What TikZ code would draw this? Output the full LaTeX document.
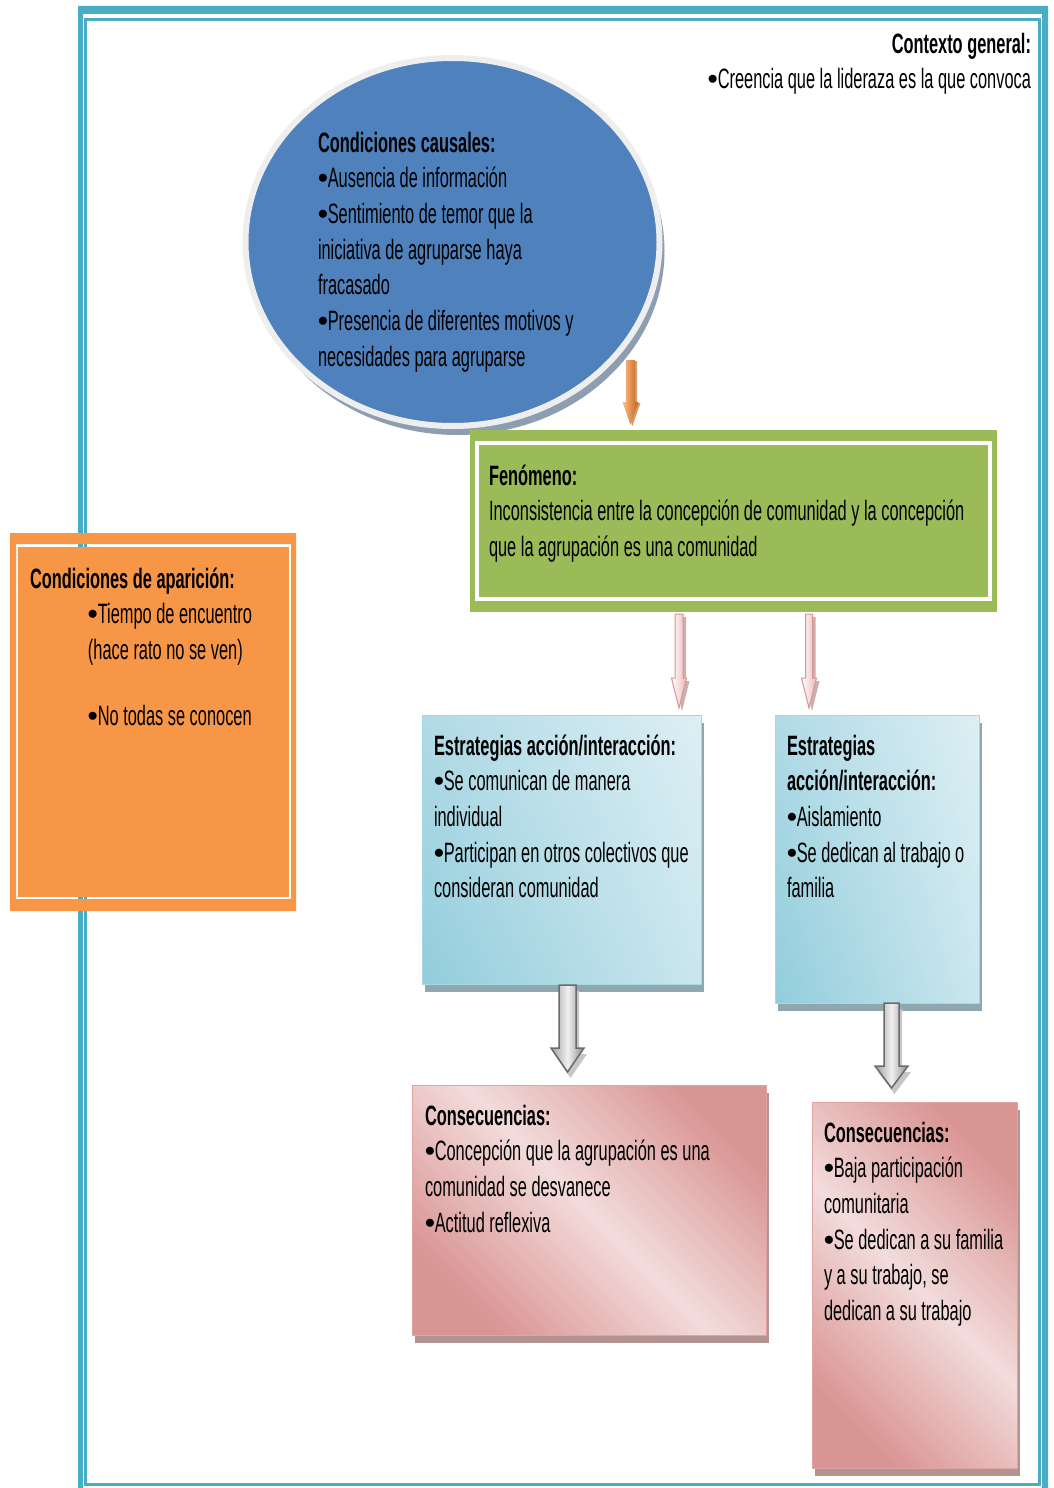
\documentclass[tikz,border=0pt]{standalone}
\usepackage{fontspec}
\setmainfont{Liberation Sans}[FakeStretch=0.585]
\newfontfamily\bulfont{Liberation Sans}
\usetikzlibrary{shapes.geometric,shadows,shadings,calc}
\definecolor{frameblue}{HTML}{4BACC6}
\definecolor{ellblue}{HTML}{4F81BD}
\definecolor{ellhalo}{HTML}{EEEEEE}
\definecolor{ellshadow}{HTML}{8E9EB2}
\definecolor{fgreen}{HTML}{9BBB59}
\definecolor{forange}{HTML}{F79646}
\definecolor{bluedark}{HTML}{92CDDC}
\definecolor{bluelight}{HTML}{DDEFF4}
\definecolor{bluemid}{HTML}{B0DAE6}
\definecolor{blueedge}{HTML}{A9D8E4}
\definecolor{blueshadow}{HTML}{8FA8AF}
\definecolor{pinkdark}{HTML}{D99594}
\definecolor{pinklight}{HTML}{F2DCDB}
\definecolor{pinkedge}{HTML}{E3A3A2}
\definecolor{pinkshadow}{HTML}{B39292}
\definecolor{arrOrL}{HTML}{FBC08F}
\definecolor{arrOrR}{HTML}{C8600E}
\definecolor{arrPink}{HTML}{E6B9B8}
\definecolor{arrPinkEdge}{HTML}{D99594}
\definecolor{arrPinkShadow}{HTML}{B88C8C}
\newcommand\topstrut{\rule{0pt}{25pt}}
\newcommand\bul{{\bulfont\bfseries •}}
% block arrow pointing down: style, start coordinate, tip coordinate, half shaft, half head, head length, dx, dy
\newcommand\blockdown[8]{\path[#1] ($(#2)+(-#4+#7,#8)$) -- ($(#2)+(#4+#7,#8)$) -- ($(#3)+(#4+#7,-#6+#8)$)
  -- ($(#3)+(#5+#7,-#6+#8)$) -- ($(#3)+(#7,#8)$) -- ($(#3)+(-#5+#7,-#6+#8)$) -- ($(#3)+(-#4+#7,-#6+#8)$) -- cycle;}
\begin{document}
\begin{tikzpicture}[x=1pt,y=-1pt,
  txt/.style={font=\fontsize{28}{35.7}\selectfont, inner sep=0pt, outer sep=0pt, align=left, anchor=north west, text=black},
  box/.style={rectangle, inner sep=0pt, outer sep=0pt, anchor=north west},
  bluebox/.style={box, draw=blueedge, line width=1pt,
    upper left=bluemid, upper right=bluelight, lower left=bluedark, lower right=bluelight!75!bluedark,
    drop shadow={shadow xshift=3pt, shadow yshift=-8pt, fill=blueshadow, opacity=1}},
  pinkbox/.style={box, draw=pinkedge, line width=1pt,
    left color=pinkdark, right color=pinkdark, middle color=pinklight, shading angle=-45,
    drop shadow={shadow xshift=3pt, shadow yshift=-8pt, fill=pinkshadow, opacity=1}},
  orangearrow/.style={left color=arrOrL, right color=arrOrR},
  pinkarrow/.style={left color=white, right color=arrPink, draw=arrPinkEdge, line width=1pt},
  pinkarrowshadow/.style={fill=arrPinkShadow, opacity=0.7},
  grayarrow/.style={left color=black!38, right color=black!45, middle color=black!6, draw=black!58, line width=1.5pt},
  grayarrowshadow/.style={fill=black!22}
]
\useasboundingbox (0,0) rectangle (1054,1488);

% outer frame
\fill[frameblue] (78,1488) -- (78,6) -- (1048,6) -- (1048,1488) -- (1042,1488) -- (1042,14) -- (83,14) -- (83,1488) -- cycle;
\draw[frameblue, line width=2.5pt] (85.5,19.5) rectangle (1039.5,1484.5);

% context
\node[txt, anchor=north east, align=right] (ctx) at (1031,28)
  {\topstrut\textbf{Contexto general:}\\\bul Creencia que la lideraza es la que convoca};

% causal conditions ellipse
\node[ellipse, minimum width=414pt, minimum height=368pt, inner sep=0pt, fill=ellblue, draw=ellhalo, line width=6pt,
  drop shadow={shadow xshift=5pt, shadow yshift=-9pt, fill=ellshadow, opacity=1}] (el) at (452.5,242) {};
\node[txt] (elt) at (318,127) {\topstrut\textbf{Condiciones causales:}\\
  \bul Ausencia de información\\
  \bul Sentimiento de temor que la\\
  iniciativa de agruparse haya\\
  fracasado\\
  \bul Presencia de diferentes motivos y\\
  necesidades para agruparse};

% phenomenon
\node[box, minimum width=527pt, minimum height=182pt, fill=fgreen] (fen) at (470,430) {};
\draw[white, line width=4pt] ($(fen.north west)+(7,13)$) rectangle ($(fen.south east)+(-7,-13.5)$);
\node[txt] (fent) at (489,460) {\topstrut\textbf{Fenómeno:}\\
  Inconsistencia entre la concepción de comunidad y la concepción\\
  que la agrupación es una comunidad};

% appearance conditions
\node[box, minimum width=286pt, minimum height=378pt] (ap) at (10,533) {};
\fill[forange, even odd rule] (ap.north west) rectangle (ap.south east)
  ($(ap.north west)+(6,11)$) rectangle ($(ap.south east)+(-5,-12)$);
\fill[forange] ($(ap.north west)+(8,14)$) rectangle ($(ap.south east)+(-7,-14)$);
\node[txt] (apt) at (30,563) {\topstrut\textbf{Condiciones de aparición:}\\
  \hspace*{58pt}\bul Tiempo de encuentro\\
  \hspace*{58pt}(hace rato no se ven)\\[30pt]
  \hspace*{58pt}\bul No todas se conocen};

% strategies
\node[bluebox, minimum width=279pt, minimum height=269pt] (s1) at (422,715) {};
\node[txt] (s1t) at (434,730) {\topstrut\textbf{Estrategias acción/interacción:}\\
  \bul Se comunican de manera\\
  individual\\
  \bul Participan en otros colectivos que\\
  consideran comunidad};
\node[bluebox, minimum width=204pt, minimum height=288pt] (s2) at (775,715) {};
\node[txt] (s2t) at (787,730) {\topstrut\textbf{Estrategias}\\
  \textbf{acción/interacción:}\\
  \bul Aislamiento\\
  \bul Se dedican al trabajo o\\
  familia};

% consequences
\node[pinkbox, minimum width=354pt, minimum height=250pt] (c1) at (412,1085) {};
\node[txt] (c1t) at (425,1100) {\topstrut\textbf{Consecuencias:}\\
  \bul Concepción que la agrupación es una\\
  comunidad se desvanece\\
  \bul Actitud reflexiva};
\node[pinkbox, minimum width=205pt, minimum height=366pt] (c2) at (812,1102) {};
\node[txt] (c2t) at (824,1117) {\topstrut\textbf{Consecuencias:}\\
  \bul Baja participación\\
  comunitaria\\
  \bul Se dedican a su familia\\
  y a su trabajo, se\\
  dedican a su trabajo};

% arrow end points
\coordinate (a0s) at (630.5,360);
\coordinate (a0e) at (630.5,425);
\coordinate (a1s) at (679,614);
\coordinate (a1e) at (679,708);
\coordinate (a2s) at (809,614);
\coordinate (a2e) at (809,708);
\coordinate (a3s) at (567.5,985);
\coordinate (a3e) at (567.5,1072);
\coordinate (a4s) at (891.5,1003);
\coordinate (a4e) at (891.5,1088);

% orange arrow: causes -> phenomenon
\blockdown{fill=arrOrR!70!black, opacity=0.5}{a0s}{a0e}{4.5}{8}{23}{2}{1}
\blockdown{orangearrow}{a0s}{a0e}{4.5}{8}{23}{0}{0}
% pink arrows: phenomenon -> strategies
\blockdown{pinkarrowshadow}{a1s}{a1e}{4}{7.5}{30}{3}{3}
\blockdown{pinkarrow}{a1s}{a1e}{4}{7.5}{30}{0}{0}
\blockdown{pinkarrowshadow}{a2s}{a2e}{3.5}{7.5}{30}{3}{3}
\blockdown{pinkarrow}{a2s}{a2e}{3.5}{7.5}{30}{0}{0}
% gray arrows: strategies -> consequences
\blockdown{grayarrowshadow}{a3s}{a3e}{8.5}{16.5}{24}{3}{6}
\blockdown{grayarrow}{a3s}{a3e}{8.5}{16.5}{24}{0}{0}
\blockdown{grayarrowshadow}{a4s}{a4e}{7.5}{16.5}{22}{3}{6}
\blockdown{grayarrow}{a4s}{a4e}{7.5}{16.5}{22}{0}{0}
\end{tikzpicture}
\end{document}
